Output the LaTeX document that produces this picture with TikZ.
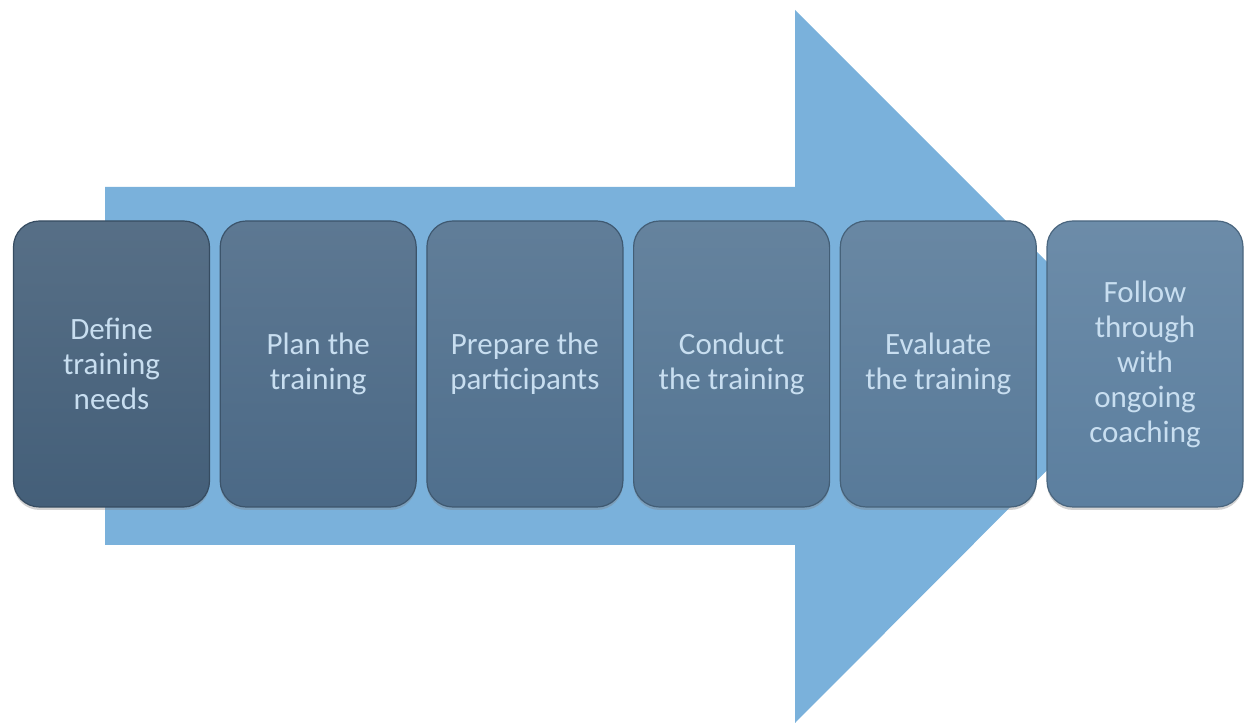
\documentclass[tikz,border=0pt]{standalone}
\usepackage{fontspec}
\setmainfont{Carlito}
\usetikzlibrary{shadows}

\definecolor{arrowblue}{HTML}{7AB1DB}
\definecolor{labeltext}{HTML}{C8DEF0}

\begin{document}
\begin{tikzpicture}[
    x=0.5pt, y=-0.5pt,
    stage/.style={rectangle, rounded corners=13pt, minimum width=98pt, minimum height=143pt,
        align=center, text=labeltext, font=\fontsize{15.5}{17.5}\selectfont, line width=0.6pt,
        drop shadow={opacity=0.35, shadow xshift=0pt, shadow yshift=-1.5pt}},
    stage1/.style={stage, top color=#1!90!white, bottom color=#1, draw=#1!80!black},
    bigarrow/.style={fill=arrowblue}
]
\useasboundingbox (0,0) rectangle (1244,726);

% Background arrow
\fill[bigarrow] (105,187) -- (795,187) -- (795,10) -- (1151,366) -- (795,723) -- (795,545) -- (105,545) -- cycle;

% Stages
\definecolor{stageA}{HTML}{445F79}
\definecolor{stageB}{HTML}{4B6986}
\definecolor{stageC}{HTML}{4F6F8D}
\definecolor{stageD}{HTML}{547593}
\definecolor{stageE}{HTML}{587A99}
\definecolor{stageF}{HTML}{5C7F9F}
\node[stage1=stageA] (define) at (111.5,364) {Define\\training\\needs};
\node[stage1=stageB] (plan) at (318.2,364) {Plan the\\training};
\node[stage1=stageC] (prepare) at (524.9,364) {Prepare the\\participants};
\node[stage1=stageD] (conduct) at (731.6,364) {Conduct\\the training};
\node[stage1=stageE] (evaluate) at (938.3,364) {Evaluate\\the training};
\node[stage1=stageF] (follow) at (1145,364) {Follow\\through\\with\\ongoing\\coaching};

\end{tikzpicture}
\end{document}
